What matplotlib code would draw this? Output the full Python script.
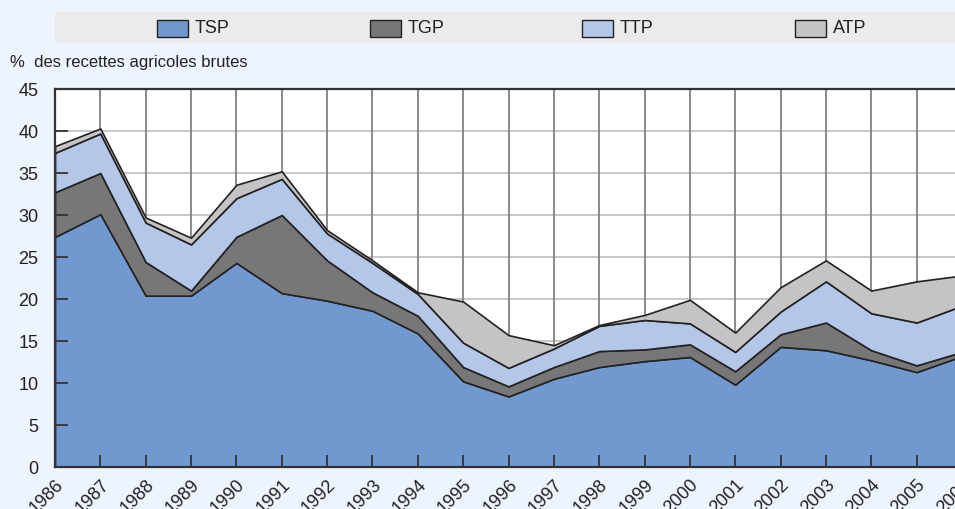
import numpy as np
import matplotlib.pyplot as plt
from matplotlib.patches import Rectangle

plt.rcParams['font.family'] = ['Liberation Sans', 'DejaVu Sans']

# Data (% of gross farm receipts)
years = list(range(1986, 2007))
labels = ['TSP', 'TGP', 'TTP', 'ATP']
colors = ['#7199d0', '#777777', '#b4c7e8', '#c4c4c4']

tsp = [27.4, 30.1, 20.4, 20.4, 24.3, 20.7, 19.8, 18.6, 15.9, 10.2, 8.4,
       10.5, 11.9, 12.6, 13.1, 9.8, 14.3, 13.9, 12.7, 11.3, 13.2]
tgp = [5.3, 4.9, 4.0, 0.6, 3.1, 9.3, 4.8, 2.2, 2.1, 1.7, 1.2,
       1.4, 1.9, 1.4, 1.5, 1.6, 1.5, 3.3, 1.2, 0.8, 0.5]
ttp = [4.7, 4.7, 4.7, 5.5, 4.6, 4.3, 3.2, 3.5, 2.6, 2.9, 2.2,
       2.2, 3.0, 3.5, 2.5, 2.3, 2.7, 4.9, 4.4, 5.1, 5.5]
atp = [0.8, 0.6, 0.6, 0.8, 1.6, 0.9, 0.4, 0.3, 0.2, 4.9, 3.9,
       0.4, 0.1, 0.6, 2.8, 2.3, 2.9, 2.5, 2.7, 4.9, 3.6]

yticks = list(range(0, 50, 5))
ylabel = '%  des recettes agricoles brutes'

fig = plt.figure(figsize=(9.55, 5.09), dpi=100)
fig.patch.set_facecolor('#edf4fd')

ax = fig.add_axes([55 / 955, 42 / 509, 907 / 955, 378 / 509])
ax.set_facecolor('white')

# grid drawn by hand so it sits under the areas
for y in yticks[1:]:
    ax.axhline(y, color='#c8c8c8', lw=1.4, zorder=0.5)
for x in years[1:]:
    ax.axvline(x, color='#8a8a8a', lw=1.4, zorder=0.6)

ax.stackplot(years, tsp, tgp, ttp, atp, colors=colors,
             edgecolor='#222222', linewidth=1.2, zorder=1)

ax.set_xlim(1986, 2006)
ax.set_ylim(0, 45)
ax.set_yticks(yticks)
ax.set_xticks(years)
ax.set_xticklabels([str(y) for y in years], rotation=45, ha='right',
                   rotation_mode='anchor')
ax.tick_params(axis='both', direction='in', length=9, width=1.3,
               color='#333333', labelsize=13, labelcolor='#222222')
ax.tick_params(axis='x', pad=7)
ax.tick_params(axis='y', pad=12)
for s in ['left', 'bottom', 'top']:
    ax.spines[s].set_color('#333333')
    ax.spines[s].set_linewidth(1.6)
ax.spines['right'].set_visible(False)

fig.text(10 / 955, 1 - 63 / 509, ylabel, fontsize=12, color='#222222',
         va='center', ha='left')

# legend band
fig.add_artist(Rectangle((55 / 955, 1 - 43 / 509), 1, 31 / 509,
                         transform=fig.transFigure, facecolor='#ebebeb',
                         edgecolor='none'))
for i, (lab, col) in enumerate(zip(labels, colors)):
    x0 = 157 + i * 212.5
    fig.add_artist(Rectangle((x0 / 955, 1 - 37 / 509), 31 / 955, 17 / 509,
                             transform=fig.transFigure, facecolor=col,
                             edgecolor='#222222', lw=1.0))
    fig.text((x0 + 38) / 955, 1 - 28.5 / 509, lab, fontsize=13,
             color='#222222', va='center', ha='left')

fig.savefig('out.png', dpi=100, facecolor=fig.get_facecolor())
